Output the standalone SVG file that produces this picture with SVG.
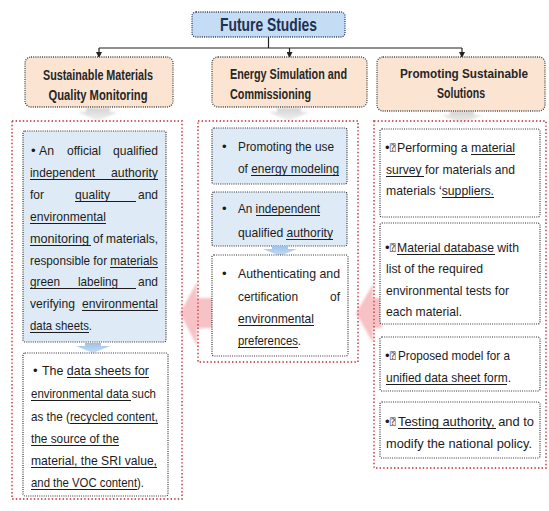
<svg xmlns="http://www.w3.org/2000/svg" width="549" height="511" viewBox="0 0 549 511">
<style>
.t{font-family:"Liberation Sans",Arial,sans-serif;font-size:13.2px;fill:#1c1c1c}
.h{font-family:"Liberation Sans",Arial,sans-serif;font-size:14px;font-weight:bold;fill:#262626}
.c{text-anchor:middle}
.q{font-family:"DejaVu Sans","DejaVu Sans Mono",sans-serif;font-size:9px;fill:#333}
.ul{stroke:#1c1c1c;stroke-width:1;fill:none}
.red{fill:none;stroke:#cf5a60;stroke-width:1.8;stroke-dasharray:1.4 2.2}
.box{stroke:#333;stroke-width:1.2;stroke-dasharray:1 1.2}
.blue{fill:#deebf7}
.wht{fill:#fff}
.hdr{fill:#fbe4d1;stroke:#444;stroke-width:1.3;stroke-dasharray:1 1.2}
.conn{stroke:#222;stroke-width:1.2;fill:none}
.pink{fill:#f5aeb2;opacity:.75;filter:url(#soft)}
.gray{fill:url(#gg);filter:url(#soft)}
.bl{fill:url(#bg)}
</style>
<defs>
<marker id="ah" markerWidth="6" markerHeight="6" refX="5" refY="3" orient="auto" markerUnits="userSpaceOnUse">
<path d="M0,0 L6,3 L0,6 Z" fill="#222"/>
</marker>
<filter id="soft" x="-20%" y="-20%" width="140%" height="140%"><feGaussianBlur stdDeviation="1.3"/></filter>
<linearGradient id="gg" x1="0" y1="0" x2="0" y2="1"><stop offset="0" stop-color="#d4d4d4"/><stop offset="1" stop-color="#f2f2f2"/></linearGradient>
<linearGradient id="bg" x1="0" y1="0" x2="0" y2="1"><stop offset="0" stop-color="#9cc2e8"/><stop offset="1" stop-color="#c9def3"/></linearGradient>
</defs>
<rect width="549" height="511" fill="#fff"/>

<g id="connectors">
<path class="conn" d="M268.5,37 V48 M99,48 H462"/>
<path class="conn" d="M99,48 V57" marker-end="url(#ah)"/>
<path class="conn" d="M289.5,48 V57" marker-end="url(#ah)"/>
<path class="conn" d="M462,48 V57" marker-end="url(#ah)"/>
<polygon class="gray" points="86,108 110,108 110,112 118,112 98,121 78,112 86,112"/>
<polygon class="gray" points="277,108 301,108 301,112 309,112 289,121 269,112 277,112"/>
<polygon class="gray" points="450,111 474,111 474,115 482,115 462,124 442,115 450,115"/>
<polygon class="pink" points="180,313 197,282 197,298 214,298 214,328 197,328 197,346"/>
<polygon class="pink" points="356,313 373,284 373,298 382,298 382,328 373,328 373,343"/>
</g>

<g id="title">
<rect x="192" y="12" width="153" height="25" rx="4" fill="#c5dcf5" stroke="#2a3a5e" stroke-width="1.3" stroke-dasharray="1 1.2"/>
<text x="220" y="31" textLength="97" lengthAdjust="spacingAndGlyphs" style="font-family:'Liberation Sans',Arial,sans-serif;font-size:18px;font-weight:bold;fill:#1f3050">Future Studies</text>
</g>

<g id="h-left">
<rect class="hdr" x="25" y="57" width="148" height="50" rx="6"/>
<text class="h c" x="98" y="80" textLength="110" lengthAdjust="spacingAndGlyphs">Sustainable Materials</text>
<text class="h c" x="98" y="100" textLength="99" lengthAdjust="spacingAndGlyphs">Quality Monitoring</text>
</g>
<g id="h-mid">
<rect class="hdr" x="212" y="57" width="155" height="50" rx="6"/>
<text class="h" x="230" y="79" textLength="117" lengthAdjust="spacingAndGlyphs">Energy Simulation and</text>
<text class="h" x="230" y="99" textLength="81" lengthAdjust="spacingAndGlyphs">Commissioning</text>
</g>
<g id="h-right">
<rect class="hdr" x="377" y="57" width="168" height="54" rx="6"/>
<text class="h c" x="464" y="78" textLength="128" lengthAdjust="spacingAndGlyphs" style="font-size:13px">Promoting Sustainable</text>
<text class="h c" x="461" y="98" textLength="48" lengthAdjust="spacingAndGlyphs">Solutions</text>
</g>

<g id="c-left">
<rect class="red" x="12" y="121" width="170" height="378"/>
</g>
<g id="c-mid">
<rect class="red" x="198" y="121" width="160" height="241"/>
</g>
<g id="c-right">
<rect class="red" x="374" y="121" width="172" height="347"/>
</g>

<g id="l1">
<rect class="box blue" x="23" y="131" width="143" height="211" rx="2"/>
<text class="t" x="31" y="155">•</text>
<text class="t" x="39" y="155" textLength="15" lengthAdjust="spacingAndGlyphs">An</text>
<text class="t" x="67" y="155" textLength="34" lengthAdjust="spacingAndGlyphs">official</text>
<text class="t" x="113" y="155" textLength="45" lengthAdjust="spacingAndGlyphs">qualified</text>
<text class="t" x="30" y="177" textLength="65" lengthAdjust="spacingAndGlyphs">independent</text>
<text class="t" x="111" y="177" textLength="47" lengthAdjust="spacingAndGlyphs">authority</text>
<text class="t" x="30" y="199" textLength="14" lengthAdjust="spacingAndGlyphs">for</text>
<text class="t" x="75" y="199" textLength="35" lengthAdjust="spacingAndGlyphs">quality</text>
<text class="t" x="138" y="199" textLength="20" lengthAdjust="spacingAndGlyphs">and</text>
<text class="t" x="30" y="221" textLength="76" lengthAdjust="spacingAndGlyphs">environmental</text>
<text class="t" x="30" y="243" textLength="59" lengthAdjust="spacingAndGlyphs">monitoring</text>
<text class="t" x="93" y="243" textLength="10" lengthAdjust="spacingAndGlyphs">of</text>
<text class="t" x="106" y="243" textLength="52" lengthAdjust="spacingAndGlyphs">materials,</text>
<text class="t" x="30" y="265" textLength="128" lengthAdjust="spacingAndGlyphs">responsible for materials</text>
<text class="t" x="30" y="286" textLength="30" lengthAdjust="spacingAndGlyphs">green</text>
<text class="t" x="78" y="286" textLength="40" lengthAdjust="spacingAndGlyphs">labeling</text>
<text class="t" x="138" y="286" textLength="20" lengthAdjust="spacingAndGlyphs">and</text>
<text class="t" x="30" y="308" textLength="45" lengthAdjust="spacingAndGlyphs">verifying</text>
<text class="t" x="82" y="308" textLength="76" lengthAdjust="spacingAndGlyphs">environmental</text>
<text class="t" x="30" y="330" textLength="62" lengthAdjust="spacingAndGlyphs">data sheets.</text>
<path class="ul" d="M30,179.5H158 M75,201.5H136 M30,223.5H106 M30,245.5H91 M110,267.5H158 M30,288.5H136 M82,310.5H158 M30,332.5H89"/>
</g>
<polygon class="bl" points="85,343 101,343 101,346 110,346 93,353 76,346 85,346"/>
<g id="l2">
<rect class="box wht" x="23" y="353" width="145" height="143" rx="2"/>
<text class="t" x="33" y="375">•</text>
<text class="t" x="42" y="375" textLength="107" lengthAdjust="spacingAndGlyphs">The data sheets for</text>
<text class="t" x="31" y="398" textLength="125" lengthAdjust="spacingAndGlyphs">environmental data such</text>
<text class="t" x="31" y="421" textLength="127" lengthAdjust="spacingAndGlyphs">as the (recycled content,</text>
<text class="t" x="31" y="443" textLength="88" lengthAdjust="spacingAndGlyphs">the source of the</text>
<text class="t" x="31" y="465" textLength="126" lengthAdjust="spacingAndGlyphs">material, the SRI value,</text>
<text class="t" x="31" y="487" textLength="113" lengthAdjust="spacingAndGlyphs">and the VOC content).</text>
<path class="ul" d="M67,377.5H149 M31,400.5H131 M70,423.5H158 M31,445.5H119 M31,467.5H157 M31,489.5H137"/>
</g>

<g id="m1">
<rect class="box blue" x="212" y="128" width="135" height="56" rx="2"/>
<text class="t" x="222" y="151">•</text>
<text class="t" x="238" y="151" textLength="96" lengthAdjust="spacingAndGlyphs">Promoting the use</text>
<text class="t" x="238" y="173" textLength="101" lengthAdjust="spacingAndGlyphs">of energy modeling</text>
<path class="ul" d="M251,175.5H339"/>
</g>
<g id="m2">
<rect class="box blue" x="212" y="192" width="135" height="54" rx="2"/>
<text class="t" x="222" y="213">•</text>
<text class="t" x="238" y="213" textLength="82" lengthAdjust="spacingAndGlyphs">An independent</text>
<text class="t" x="238" y="237" textLength="95" lengthAdjust="spacingAndGlyphs">qualified authority</text>
<path class="ul" d="M256,215.5H320 M286,239.5H333"/>
</g>
<polygon class="bl" points="272,246 288,246 288,249 297,249 280,256 263,249 272,249"/>
<g id="m3">
<rect class="box wht" x="212" y="255" width="136" height="101" rx="2"/>
<text class="t" x="222" y="278">•</text>
<text class="t" x="238" y="278" textLength="102" lengthAdjust="spacingAndGlyphs">Authenticating and</text>
<text class="t" x="238" y="301" textLength="60" lengthAdjust="spacingAndGlyphs">certification</text>
<text class="t" x="330" y="301" textLength="10" lengthAdjust="spacingAndGlyphs">of</text>
<text class="t" x="238" y="323" textLength="76" lengthAdjust="spacingAndGlyphs">environmental</text>
<text class="t" x="238" y="345" textLength="63" lengthAdjust="spacingAndGlyphs">preferences.</text>
<path class="ul" d="M238,325.5H314 M238,347.5H298"/>
</g>

<g id="r1">
<rect class="box wht" x="380" y="129" width="160" height="88" rx="2"/>
<text class="t" x="385" y="152">•</text>
<text class="q" x="390" y="151">⍰</text>
<text class="t" x="397" y="152" textLength="118" lengthAdjust="spacingAndGlyphs">Performing a material</text>
<text class="t" x="386" y="174" textLength="129" lengthAdjust="spacingAndGlyphs">survey for materials and</text>
<text class="t" x="386" y="195" textLength="108" lengthAdjust="spacingAndGlyphs">materials ‘suppliers.</text>
<path class="ul" d="M471,154.5H515 M386,176.5H424 M442,197.5H494"/>
</g>
<g id="r2">
<rect class="box wht" x="380" y="223" width="160" height="101" rx="2"/>
<text class="t" x="385" y="252">•</text>
<text class="q" x="390" y="251">⍰</text>
<text class="t" x="397" y="252" textLength="122" lengthAdjust="spacingAndGlyphs">Material database with</text>
<text class="t" x="386" y="273" textLength="97" lengthAdjust="spacingAndGlyphs">list of the required</text>
<text class="t" x="386" y="295" textLength="123" lengthAdjust="spacingAndGlyphs">environmental tests for</text>
<text class="t" x="386" y="316" textLength="76" lengthAdjust="spacingAndGlyphs">each material.</text>
<path class="ul" d="M397,254.5H495"/>
</g>
<g id="r3">
<rect class="box wht" x="380" y="337" width="160" height="54" rx="2"/>
<text class="t" x="385" y="360">•</text>
<text class="q" x="390" y="359">⍰</text>
<text class="t" x="398" y="360" textLength="112" lengthAdjust="spacingAndGlyphs">Proposed model for a</text>
<text class="t" x="386" y="382" textLength="125" lengthAdjust="spacingAndGlyphs">unified data sheet form.</text>
<path class="ul" d="M386,384.5H507"/>
</g>
<g id="r4">
<rect class="box wht" x="380" y="402" width="160" height="56" rx="2"/>
<text class="t" x="385" y="426">•</text>
<text class="q" x="390" y="425">⍰</text>
<text class="t" x="398" y="426" textLength="136" lengthAdjust="spacingAndGlyphs">Testing authority, and to</text>
<text class="t" x="386" y="448" textLength="146" lengthAdjust="spacingAndGlyphs">modify the national policy.</text>
<path class="ul" d="M398,428.5H496"/>
</g>
</svg>
